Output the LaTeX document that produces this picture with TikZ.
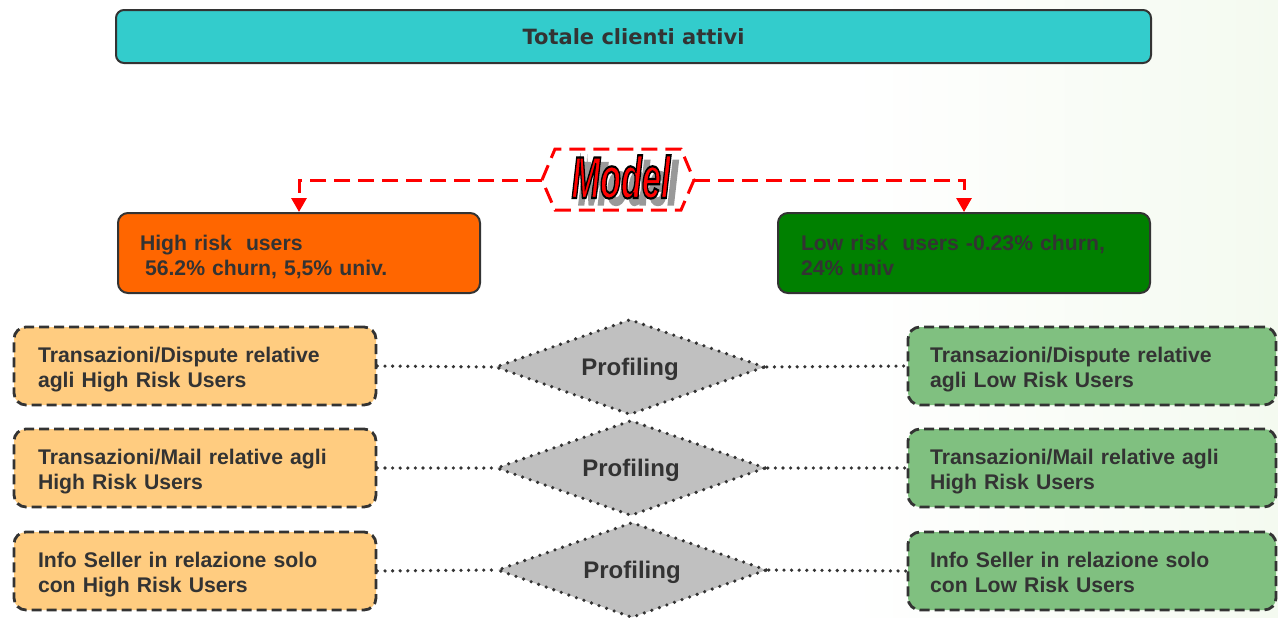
\documentclass[tikz,border=0pt]{standalone}
\usepackage{fontspec}
\setmainfont{Liberation Sans}
\newfontfamily\titlefont{DejaVu Sans}
\usetikzlibrary{shapes.geometric,arrows.meta}
\definecolor{txt}{HTML}{333333}
\definecolor{teal1}{HTML}{33CCCC}
\definecolor{orange1}{HTML}{FF6600}
\definecolor{green1}{HTML}{008000}
\definecolor{lorange}{HTML}{FFCC80}
\definecolor{lgreen}{HTML}{80C080}
\definecolor{gray1}{HTML}{C0C0C0}
\definecolor{bgreen}{HTML}{F4FAF0}
\definecolor{shadowgray}{HTML}{999999}
\newcommand{\outlined}[2]{\special{pdf:literal direct #1 2 Tr}#2\special{pdf:literal direct 0 Tr}}
\newcommand{\modelword}{\scalebox{0.58}[1]{Model}}
\begin{document}
\begin{tikzpicture}[x=0.5pt,y=-0.5pt,
  titlebox/.style={draw=txt,line width=1pt,fill=teal1,rounded corners=4pt,
    minimum width=517.5pt,minimum height=26.5pt,
    font=\titlefont\bfseries\fontsize{10.5}{12}\selectfont,text=txt},
  riskbox/.style={draw=txt,line width=1pt,rounded corners=5pt,minimum height=40pt,
    align=left,inner ysep=0pt,font=\bfseries\fontsize{10.6}{12.5}\selectfont,text=txt,
    execute at begin node={\rule{0pt}{12.5pt}},
    execute at end node={\rule[-3pt]{0pt}{3pt}}},
  infobox/.style={draw=txt,line width=1.4pt,dash pattern=on 5pt off 2.5pt,
    rounded corners=6pt,minimum height=39pt,align=left,inner ysep=0pt,
    font=\bfseries\fontsize{10.6}{12.5}\selectfont,text=txt,
    execute at begin node={\rule{0pt}{11.5pt}},
    execute at end node={\rule[-3pt]{0pt}{3pt}}},
  profile/.style={diamond,draw=txt,line width=1.8pt,dash pattern=on 0pt off 4pt,
    line cap=round,fill=gray1,aspect=2.8,minimum width=135pt,minimum height=48pt,
    inner sep=0pt,text height=8.6pt,text depth=0pt,
    font=\bfseries\fontsize{12}{13}\selectfont,text=txt},
  dotline/.style={draw=txt,line width=1.8pt,dash pattern=on 0pt off 3.8pt,line cap=round},
  reddash/.style={draw=red,line width=1.5pt,dash pattern=on 8pt off 4pt},
  modelfont/.style={font=\bfseries\itshape\fontsize{29.5}{30}\selectfont,anchor=base,inner sep=0pt}
]
% background
\useasboundingbox (0,0) rectangle (1278,617);
\fill[white] (0,0) rectangle (1278,617);
\shade[left color=white,right color=bgreen,draw=none] (850,0) rectangle (1278,617);

% title
\node[titlebox] (tot) at (633.5,36.5) {Totale clienti attivi};

% model label
\draw[reddash] (542,180) coordinate (mL) -- (555,149) -- (681,149) -- (694,180) coordinate (mR)
  -- (681,210) -- (555,210) -- cycle;
\node[modelfont,text=red] (model) at (621,198)
  {\makebox[0pt][l]{\hspace*{3.5pt}\raisebox{-3pt}[0pt][0pt]{\color{shadowgray}\outlined{1.6 w}{\modelword}}}%
   \outlined{0 0 0 RG 1.1 w}{\modelword}};

% risk boxes
\node[riskbox,fill=orange1,minimum width=181pt,text width=159pt,inner xsep=11pt]
  (high) at (299,253) {High risk~ users\\\hspace*{2.5pt}56.2\% churn, 5,5\% univ.};
\node[riskbox,fill=green1,minimum width=186pt,text width=163pt,inner xsep=11.5pt]
  (low) at (964,253) {Low risk~ users -0.23\% churn,\\24\% univ};

\draw[reddash,-{Triangle[length=7pt,width=7.5pt]}] (mL) -| (high.north);
\draw[reddash,-{Triangle[length=7pt,width=7.5pt]}] (mR) -| (low.north);

% left boxes
\node[infobox,fill=lorange,minimum width=181pt,text width=157pt,inner xsep=12pt]
  (l1) at (195,366) {Transazioni/Dispute relative\\agli High Risk Users};
\node[infobox,fill=lorange,minimum width=181pt,text width=157pt,inner xsep=12pt]
  (l2) at (195,468) {Transazioni/Mail relative agli\\High Risk Users};
\node[infobox,fill=lorange,minimum width=181pt,text width=157pt,inner xsep=12pt]
  (l3) at (195,571) {Info Seller in relazione solo\\con High Risk Users};

% right boxes
\node[infobox,fill=lgreen,minimum width=184pt,text width=162pt,inner xsep=11pt]
  (r1) at (1092,366) {Transazioni/Dispute relative\\agli Low Risk Users};
\node[infobox,fill=lgreen,minimum width=184pt,text width=162pt,inner xsep=11pt]
  (r2) at (1092,468) {Transazioni/Mail relative agli\\High Risk Users};
\node[infobox,fill=lgreen,minimum width=184pt,text width=162pt,inner xsep=11pt]
  (r3) at (1092,571) {Info Seller in relazione solo\\con Low Risk Users};

% profiling diamonds
\node[profile] (p1) at (630,367) {Profiling};
\node[profile] (p2) at (631,468) {Profiling};
\node[profile] (p3) at (632,570) {Profiling};

% dotted connectors
\draw[dotline] (l1.east) -- (p1.west);
\draw[dotline] (p1.east) -- (r1.west);
\draw[dotline] (l2.east) -- (p2.west);
\draw[dotline] (p2.east) -- (r2.west);
\draw[dotline] (l3.east) -- (p3.west);
\draw[dotline] (p3.east) -- (r3.west);
\end{tikzpicture}
\end{document}
